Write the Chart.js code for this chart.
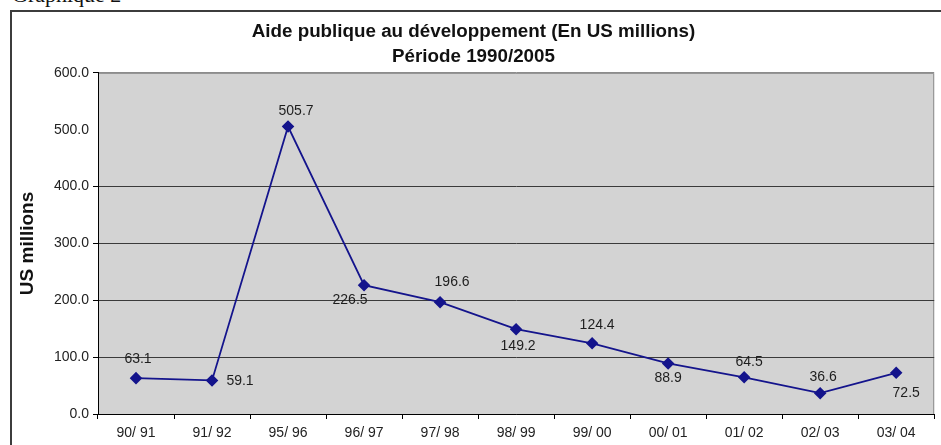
<!DOCTYPE html>
<html>
<head>
<meta charset="utf-8">
<script src="https://cdn.jsdelivr.net/npm/chart.js@4"></script>
<style>
  body { margin: 0; background: #fff; overflow: hidden; }
  #wrap { position: relative; width: 941px; height: 445px; }
  #frame { position: absolute; left: 10px; top: 10px; width: 960px; height: 470px; border: 2px solid #3c3c3c; box-sizing: border-box; }
  #caption { position: absolute; left: 12px; top: -16px; font: 22px "Liberation Serif", "DejaVu Serif", serif; color: #111; white-space: nowrap; line-height: 22px; }
  #chart-box { position: absolute; left: 0; top: 0; width: 941px; height: 445px; }
</style>
</head>
<body>
<div id="wrap">
  <div id="frame"></div>
  <span id="caption">Graphique 2</span>
  <div id="chart-box"><canvas id="myChart"></canvas></div>
</div>
<script>
// periods on the x axis
var periods = ["90/ 91", "91/ 92", "95/ 96", "96/ 97", "97/ 98", "98/ 99", "99/ 00", "00/ 01", "01/ 02", "02/ 03", "03/ 04"];
// aid in US millions
var aidValues = [63.1, 59.1, 505.7, 226.5, 196.6, 149.2, 124.4, 88.9, 64.5, 36.6, 72.5];
// y axis ticks
var yTicks = [0, 100, 200, 300, 400, 500, 600];

// where each value label sits, relative to its point (dx, dy)
var labelOffsets = [[2,-19],[28,1],[8,-15],[-14,15],[12,-20],[2,17],[5,-18],[0,15],[5,-15],[3,-16],[10,20]];

Chart.defaults.font.family = "'Liberation Sans', Arial, sans-serif";

// grey plot area like the excel chart
var plotBackground = {
  id: 'plotBackground',
  beforeDraw: function(chart) {
    var a = chart.chartArea, ctx = chart.ctx;
    ctx.save();
    ctx.fillStyle = '#d3d3d3';
    ctx.fillRect(a.left, a.top, a.right - a.left, a.bottom - a.top);
    ctx.strokeStyle = '#8c8c8c';
    ctx.lineWidth = 1;
    ctx.beginPath();
    ctx.moveTo(a.left, a.top + 0.5);
    ctx.lineTo(a.right - 0.5, a.top + 0.5);
    ctx.lineTo(a.right - 0.5, a.bottom);
    ctx.stroke();
    ctx.restore();
  }
};

// value labels next to the points
var valueLabels = {
  id: 'valueLabels',
  afterDatasetsDraw: function(chart) {
    var ctx = chart.ctx;
    var meta = chart.getDatasetMeta(0);
    ctx.save();
    ctx.font = "14px 'Liberation Sans', Arial, sans-serif";
    ctx.fillStyle = '#1e1e1e';
    ctx.textAlign = 'center';
    ctx.textBaseline = 'middle';
    meta.data.forEach(function(pt, i) {
      var off = labelOffsets[i];
      ctx.fillText(aidValues[i].toFixed(1), pt.x + off[0], pt.y + off[1]);
    });
    ctx.restore();
  }
};

new Chart("myChart", {
  type: "line",
  data: {
    labels: periods,
    datasets: [{
      data: aidValues,
      borderColor: "#14148c",
      backgroundColor: "#14148c",
      borderWidth: 1.8,
      tension: 0,
      pointStyle: "rectRot",
      pointRadius: 5,
      pointBackgroundColor: "#14148c",
      pointBorderColor: "#14148c"
    }]
  },
  options: {
    responsive: true,
    maintainAspectRatio: false,
    animation: false,
    layout: { padding: { left: 7, right: 1, top: 0, bottom: 0 } },
    plugins: {
      legend: { display: false },
      tooltip: { enabled: false },
      title: {
        display: true,
        text: ["Aide publique au développement (En US millions)", "Période 1990/2005"],
        color: "#111",
        font: { size: 18.8, weight: "bold", lineHeight: 1.3 },
        padding: { top: 20, bottom: 4 }
      }
    },
    scales: {
      x: {
        offset: true,
        grid: { drawOnChartArea: false, offset: true, tickLength: 5, tickColor: "#000" },
        border: { color: "#000", width: 1 },
        ticks: { color: "#222", font: { size: 14 }, padding: 6, maxRotation: 0, autoSkip: false },
        afterFit: function(scale) { scale.height = 31; }
      },
      y: {
        min: 0,
        max: 600,
        afterBuildTicks: function(scale) {
          scale.ticks = yTicks.map(function(v) { return { value: v }; });
        },
        grid: {
          color: function(c) {
            if (c.tick.value === 500) return 'rgba(0,0,0,0)';
            if (c.tick.value === 600) return '#8c8c8c';
            return '#3a3a3a';
          },
          tickColor: function(c) { return c.tick.value === 500 ? 'rgba(0,0,0,0)' : '#000'; },
          tickLength: 5
        },
        border: { color: "#000", width: 1 },
        ticks: {
          color: "#222",
          font: { size: 14 },
          padding: 4,
          callback: function(v) { return Number(v).toFixed(1); }
        },
        title: {
          display: true,
          text: "US millions",
          color: "#111",
          font: { size: 19, weight: "bold" },
          padding: { top: 9.5, bottom: 0 }
        },
        afterFit: function(scale) { scale.width = 91; }
      }
    }
  },
  plugins: [plotBackground, valueLabels]
});
</script>
</body>
</html>
